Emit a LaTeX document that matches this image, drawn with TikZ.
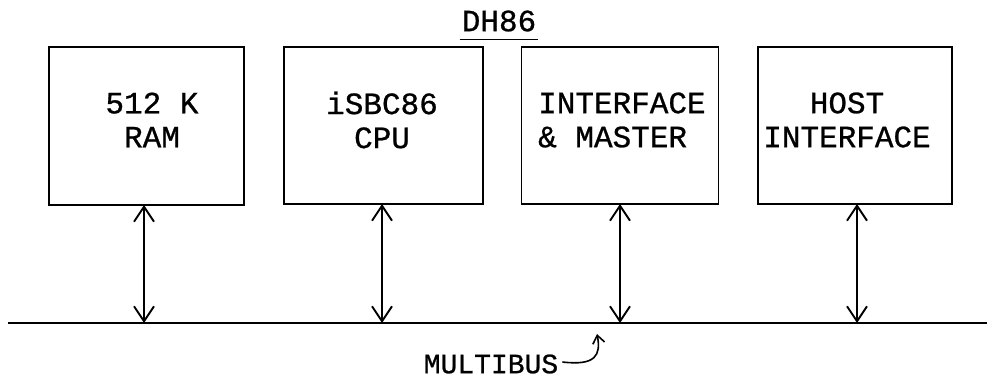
\documentclass[tikz,border=0pt]{standalone}
\usepackage{fontspec}
\setmonofont[FakeBold=0.8]{Liberation Mono}
\usetikzlibrary{arrows.meta}
\tikzset{
  blockbox/.style={draw, line width=1.9pt, inner sep=0pt, outer sep=0pt},
  blocktext/.style={font=\ttfamily\fontsize{31}{34}\selectfont, inner sep=0pt, align=center},
  biarrow/.style={line width=1.9pt, {Straight Barb[length=15pt,width=20pt,line width=1.9pt]}-{Straight Barb[length=15pt,width=20pt,line width=1.9pt]}},
  busline/.style={line width=1.6pt},
  pointer/.style={line width=1.6pt, -{Straight Barb[length=8pt,width=12pt,line width=1.6pt]}}
}
\begin{document}
\begin{tikzpicture}[x=1pt,y=-1pt]
\useasboundingbox (0,0) rectangle (987,377);
% boxes
\node[blockbox, minimum width=195pt, minimum height=158pt] (ram) at (146.5,126) {};
\node[blockbox, minimum width=199pt, minimum height=157pt] (cpu) at (383.5,125.5) {};
\node[blockbox, minimum width=197pt, minimum height=157pt] (ifm) at (620,125.5) {};
\node[blockbox, minimum width=194pt, minimum height=157pt] (host) at (855,125.5) {};
% labels
\node[blocktext] (ramt) at (152,120) {512 K\\RAM};
\node[blocktext] (cput) at (382,120) {iSBC86\\CPU};
\node[blocktext, align=left, anchor=west] (ifmt) at (538,120) {INTERFACE\\\&~MASTER};
\node[blocktext] (hostt) at (847,120) {HOST\\INTERFACE};
% title
\node[blocktext] (dh) at (499,21) {DH86};
\draw[line width=1.4pt] ([xshift=-2pt,yshift=-8pt]dh.south west) -- ([xshift=2pt,yshift=-8pt]dh.south east);
% bus
\coordinate (busL) at (8,323);
\coordinate (busR) at (987,323);
\draw[busline] (busL) -- (busR);
\draw[biarrow] (ram.south -| 144,0) -- (144,323);
\draw[biarrow] (cpu.south -| 382,0) -- (382,323);
\draw[biarrow] (ifm.south -| 620,0) -- (620,323);
\draw[biarrow] (host.south -| 857,0) -- (857,323);
% multibus label
\node[blocktext, font=\ttfamily\fontsize{28}{30}\selectfont] (mb) at (491,364) {MULTIBUS};
\coordinate (mbtip) at (597,334);
\draw[pointer] ([xshift=4pt,yshift=2pt]mb.east) .. controls (596,366) and (601,355) .. (mbtip);
\end{tikzpicture}
\end{document}
